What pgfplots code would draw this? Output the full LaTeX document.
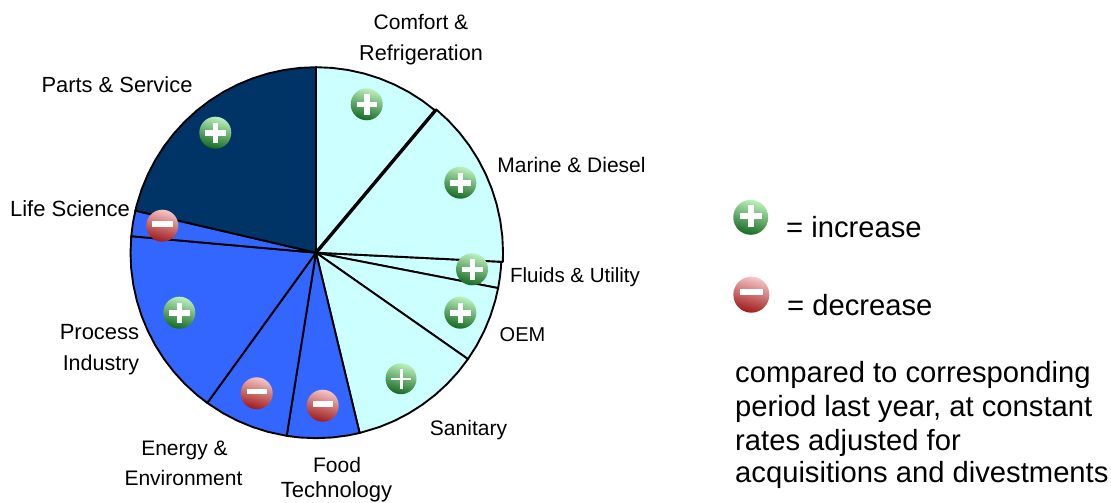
\documentclass[border=0pt]{standalone}
\usepackage{pgfplots}
\pgfplotsset{compat=1.18}
\usepackage{fontspec}
\setmainfont{Liberation Sans}
\definecolor{lightc}{HTML}{CCFFFF}
\definecolor{midb}{HTML}{3366FF}
\definecolor{navy}{HTML}{003366}
\definecolor{gtop}{HTML}{BDF2BD}
\definecolor{gmid}{HTML}{5E9E68}
\definecolor{gbot}{HTML}{156A22}
\definecolor{rtop}{HTML}{F6C6C6}
\definecolor{rmid}{HTML}{C47878}
\definecolor{rbot}{HTML}{A01A1A}
\pgfdeclareplotmark{plusonly}{%
  \fill[white] (-0.62*\pgfplotmarksize,-0.13*\pgfplotmarksize) rectangle (0.62*\pgfplotmarksize,0.13*\pgfplotmarksize);
  \fill[white] (-0.13*\pgfplotmarksize,-0.62*\pgfplotmarksize) rectangle (0.13*\pgfplotmarksize,0.62*\pgfplotmarksize);
}
\pgfdeclareplotmark{thinplusonly}{%
  \fill[white] (-0.62*\pgfplotmarksize,-0.05*\pgfplotmarksize) rectangle (0.62*\pgfplotmarksize,0.05*\pgfplotmarksize);
  \fill[white] (-0.05*\pgfplotmarksize,-0.62*\pgfplotmarksize) rectangle (0.05*\pgfplotmarksize,0.62*\pgfplotmarksize);
}
\pgfdeclareplotmark{minusonly}{%
  \fill[white] (-0.62*\pgfplotmarksize,-0.13*\pgfplotmarksize) rectangle (0.62*\pgfplotmarksize,0.13*\pgfplotmarksize);
}
\newcommand\lbl[4][21pt]{\node[anchor=base,inner sep=0pt,font=\fontsize{#1}{#1}\selectfont] at (#2pt,{503pt-#3pt}) {#4};}
\newcommand\lft[4][29.2pt]{\node[anchor=base west,inner sep=0pt,font=\fontsize{#1}{#1}\selectfont] at (#2pt,{503pt-#3pt}) {#4};}
\pgfplotsset{
  greenball/.style={only marks, mark=none, nodes near coords={\vphantom{x}},
    every node near coord/.style={anchor=center, circle, inner sep=0pt, minimum size=#1,
      top color=gtop, middle color=gmid, bottom color=gbot, shading angle=-15}},
  redball/.style={only marks, mark=none, nodes near coords={\vphantom{x}},
    every node near coord/.style={anchor=center, circle, inner sep=0pt, minimum size=#1,
      top color=rtop, middle color=rmid, bottom color=rbot, shading angle=-15}},
}
\begin{document}
\begin{tikzpicture}
\useasboundingbox (0,0) rectangle (1111pt,503pt);
\clip (0,0) rectangle (1111pt,503pt);
\begin{axis}[
  at={(0,0)}, anchor=south west,
  scale only axis, width=1111pt, height=503pt,
  xmin=-316, xmax=795, ymin=-250.3, ymax=252.7,
  hide axis, clip=false,
  pie/.style={draw=black, line width=1.9pt, line join=round},
]
% Comfort & Refrigeration
\addplot[pie, fill=lightc, data cs=polar] coordinates {(0,0)(90,185.5)(85,185.5)(80,185.5)(75,185.5)(70,185.5)(65,185.5)(60,185.5)(55,185.5)(50,185.5)} --cycle;
% Fluids & Utility
\addplot[pie, fill=lightc, data cs=polar] coordinates {(0,0)(-2.8,185.5)(-5,185.5)(-8,185.5)(-11,185.5)} --cycle;
% OEM
\addplot[pie, fill=lightc, data cs=polar] coordinates {(0,0)(-11,185.5)(-15,185.5)(-20,185.5)(-25,185.5)(-30,185.5)(-35,185.5)} --cycle;
% Sanitary
\addplot[pie, fill=lightc, data cs=polar] coordinates {(0,0)(-35,185.5)(-40,185.5)(-45,185.5)(-50,185.5)(-55,185.5)(-60,185.5)(-65,185.5)(-70,185.5)(-76.4,185.5)} --cycle;
% Food Technology
\addplot[pie, fill=midb, data cs=polar] coordinates {(0,0)(-76.4,185.5)(-80,185.5)(-85,185.5)(-90,185.5)(-95,185.5)(-99.1,185.5)} --cycle;
% Energy & Environment
\addplot[pie, fill=midb, data cs=polar] coordinates {(0,0)(-99.1,185.5)(-105,185.5)(-110,185.5)(-115,185.5)(-120,185.5)(-125.9,185.5)} --cycle;
% Process Industry
\addplot[pie, fill=midb, data cs=polar] coordinates {(0,0)(-125.9,185.5)(-130,185.5)(-135,185.5)(-140,185.5)(-145,185.5)(-150,185.5)(-155,185.5)(-160,185.5)(-165,185.5)(-170,185.5)(-175,185.5)(-180,185.5)(-185.1,185.5)} --cycle;
% Life Science
\addplot[pie, fill=midb, data cs=polar] coordinates {(0,0)(-185.1,185.5)(-189,185.5)(-193.1,185.5)} --cycle;
% Parts & Service
\addplot[pie, fill=navy, data cs=polar] coordinates {(0,0)(-193.1,185.5)(-195,185.5)(-200,185.5)(-205,185.5)(-210,185.5)(-215,185.5)(-220,185.5)(-225,185.5)(-230,185.5)(-235,185.5)(-240,185.5)(-245,185.5)(-250,185.5)(-255,185.5)(-260,185.5)(-265,185.5)(-270,185.5)} --cycle;
% Marine & Diesel
\addplot[pie, fill=lightc, data cs=polar] coordinates {(0,0)(50,187)(45,187)(40,187)(35,187)(30,187)(25,187)(20,187)(15,187)(10,187)(5,187)(0,187)(-2.8,187)} --cycle;
\addplot[draw=black, line width=3.4pt, data cs=polar] coordinates {(0,0)(50,186.5)};
% increase / decrease balls
\addplot[greenball=32pt] coordinates {(50.7,148.4)};
\addplot[greenball=32pt] coordinates {(-100.7,120)};
\addplot[greenball=32pt] coordinates {(144.3,70)};
\addplot[greenball=32pt] coordinates {(156,-16.6)};
\addplot[greenball=32pt] coordinates {(144.3,-60)};
\addplot[greenball=32pt] coordinates {(-136.7,-60)};
\addplot[greenball=31pt] coordinates {(85,-126)};
\addplot[redball=32pt] coordinates {(-153.7,27)};
\addplot[redball=32pt] coordinates {(-59.3,-140.6)};
\addplot[redball=32pt] coordinates {(6.7,-153)};
\addplot[greenball=35pt] coordinates {(434.7,35.4)};
\addplot[redball=36pt] coordinates {(435.3,-42)};
% white signs
\addplot[only marks, mark=plusonly, mark size=16pt] coordinates {(50.7,148.4)(-100.7,120)(144.3,70)(156,-16.6)(144.3,-60)(-136.7,-60)};
\addplot[only marks, mark=thinplusonly, mark size=15.5pt] coordinates {(85,-126)};
\addplot[only marks, mark=minusonly, mark size=16pt] coordinates {(-153.7,29)(-59.3,-138.6)(6.7,-151)};
\addplot[only marks, mark=plusonly, mark size=17.5pt] coordinates {(434.7,37)};
\addplot[only marks, mark=minusonly, mark size=18pt] coordinates {(435.3,-39)};
\end{axis}
\lbl{421}{30}{Comfort \&}
\lbl[21.6pt]{421}{60.5}{Refrigeration}
\lbl[21.9pt]{117}{93}{Parts \& Service}
\lbl{571.5}{173}{Marine \& Diesel}
\lbl[22pt]{70}{217}{Life Science}
\lbl[20.5pt]{575}{283}{Fluids \& Utility}
\lbl[20pt]{522.5}{342}{OEM}
\lbl[22pt]{99.5}{340}{Process}
\lbl[21.5pt]{101}{370.5}{Industry}
\lbl{468.5}{435.5}{Sanitary}
\lbl{184.5}{455.5}{Energy \&}
\lbl{183.5}{485.5}{Environment}
\lbl{337}{472.5}{Food}
\lbl[22pt]{336.5}{498}{Technology}
\lft{786}{238}{= increase}
\lft{787}{316}{= decrease}
\lft{735}{383}{compared to corresponding}
\lft{735}{417}{period last year, at constant}
\lft{735}{451}{rates adjusted for}
\lft{735}{483}{acquisitions and divestments}
\end{tikzpicture}
\end{document}
